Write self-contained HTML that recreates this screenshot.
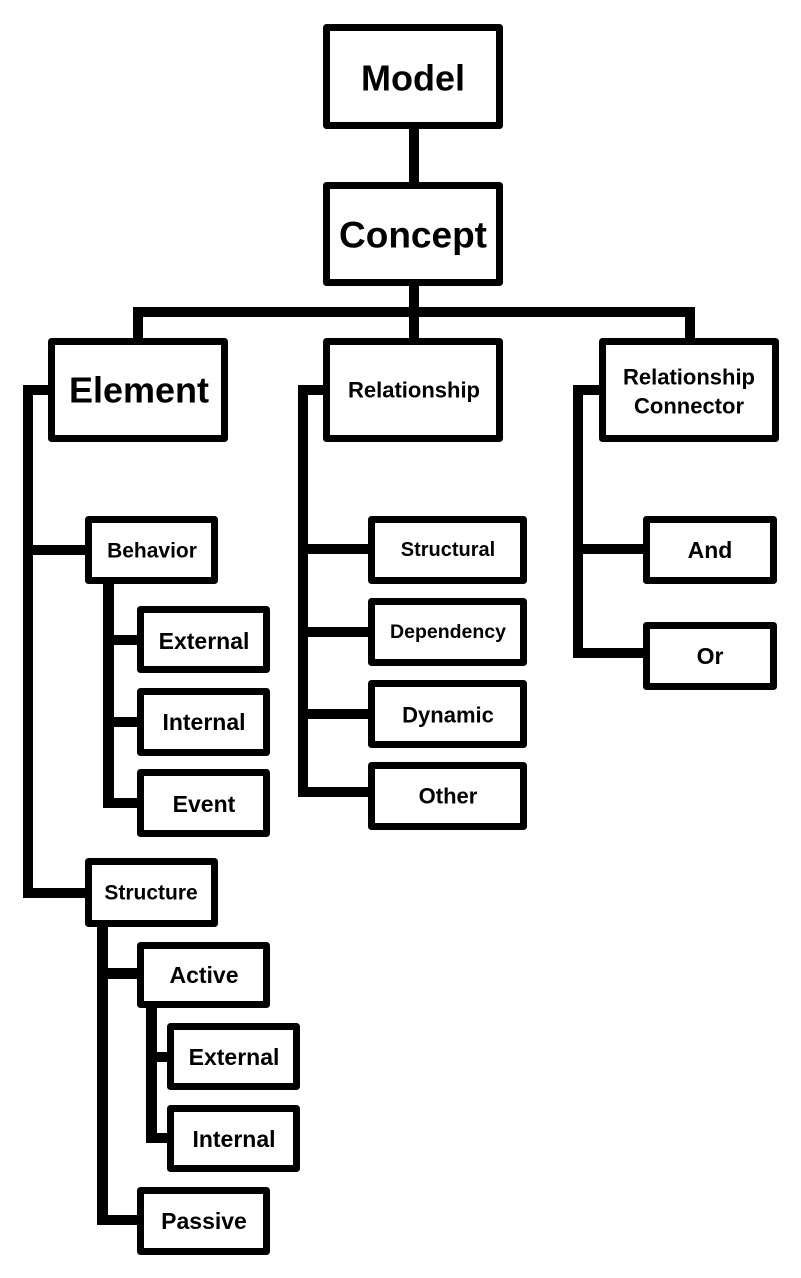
<!DOCTYPE html>
<html><head><meta charset="utf-8"><style>
html,body{margin:0;padding:0;background:#fff;}
svg{display:block;}
text{font-family:"Liberation Sans",Arial,sans-serif;font-weight:bold;fill:#000;text-anchor:middle;dominant-baseline:central;}
</style></head><body>
<svg width="801" height="1278" viewBox="0 0 801 1278" xmlns="http://www.w3.org/2000/svg">
<g fill="#000">
<rect x="409" y="128" width="10" height="56"/>
<rect x="409" y="284" width="10" height="56"/>
<rect x="133" y="307" width="562" height="10"/>
<rect x="133" y="307" width="10" height="33"/>
<rect x="685" y="307" width="10" height="33"/>
<rect x="23" y="385" width="28" height="10"/>
<rect x="23" y="385" width="10" height="513"/>
<rect x="23" y="545" width="64" height="10"/>
<rect x="23" y="888" width="64" height="10"/>
<rect x="103" y="582" width="11" height="226"/>
<rect x="103" y="635" width="36" height="10"/>
<rect x="103" y="717" width="36" height="10"/>
<rect x="103" y="798" width="36" height="10"/>
<rect x="97" y="925" width="11" height="300"/>
<rect x="97" y="968" width="42" height="11"/>
<rect x="97" y="1215" width="42" height="10"/>
<rect x="146" y="1006" width="11" height="137"/>
<rect x="146" y="1052" width="24" height="10"/>
<rect x="146" y="1133" width="24" height="10"/>
<rect x="298" y="385" width="28" height="10"/>
<rect x="298" y="385" width="10" height="412"/>
<rect x="298" y="544" width="72" height="10"/>
<rect x="298" y="627" width="72" height="10"/>
<rect x="298" y="709" width="72" height="10"/>
<rect x="298" y="787" width="72" height="10"/>
<rect x="573" y="385" width="28" height="10"/>
<rect x="573" y="385" width="10" height="273"/>
<rect x="573" y="544" width="72" height="10"/>
<rect x="573" y="648" width="72" height="10"/>
</g>
<g fill="#fff" stroke="#000" stroke-width="7" stroke-linejoin="round">
<rect x="326.5" y="27.5" width="173" height="98"/>
<rect x="326.5" y="185.5" width="173" height="97"/>
<rect x="51.5" y="341.5" width="173" height="97"/>
<rect x="326.5" y="341.5" width="173" height="97"/>
<rect x="602.5" y="341.5" width="173" height="97"/>
<rect x="88.5" y="519.5" width="126" height="61"/>
<rect x="140.5" y="609.5" width="126" height="60"/>
<rect x="140.5" y="691.5" width="126" height="61"/>
<rect x="140.5" y="772.5" width="126" height="61"/>
<rect x="88.5" y="861.5" width="126" height="62"/>
<rect x="140.5" y="945.5" width="126" height="59"/>
<rect x="170.5" y="1026.5" width="126" height="60"/>
<rect x="170.5" y="1108.5" width="126" height="60"/>
<rect x="140.5" y="1190.5" width="126" height="61"/>
<rect x="371.5" y="519.5" width="152" height="61"/>
<rect x="371.5" y="601.5" width="152" height="61"/>
<rect x="371.5" y="683.5" width="152" height="61"/>
<rect x="371.5" y="765.5" width="152" height="61"/>
<rect x="646.5" y="519.5" width="127" height="61"/>
<rect x="646.5" y="625.5" width="127" height="61"/>
</g>
<text x="413" y="78" font-size="36">Model</text>
<text x="413" y="235" font-size="37">Concept</text>
<text x="139" y="390" font-size="36">Element</text>
<text x="414" y="390" font-size="22">Relationship</text>
<text x="689" y="377" font-size="22">Relationship</text>
<text x="689" y="406" font-size="22">Connector</text>
<text x="152" y="551" font-size="21">Behavior</text>
<text x="204" y="641" font-size="23">External</text>
<text x="204" y="722" font-size="23">Internal</text>
<text x="204" y="804" font-size="23">Event</text>
<text x="151" y="893" font-size="21">Structure</text>
<text x="204" y="975" font-size="23">Active</text>
<text x="234" y="1057" font-size="23">External</text>
<text x="234" y="1139" font-size="23">Internal</text>
<text x="204" y="1221" font-size="23">Passive</text>
<text x="448" y="550" font-size="20">Structural</text>
<text x="448" y="632" font-size="19.5">Dependency</text>
<text x="448" y="715" font-size="22">Dynamic</text>
<text x="448" y="796" font-size="22">Other</text>
<text x="710" y="550" font-size="23">And</text>
<text x="710" y="656" font-size="23">Or</text>
</svg>
</body></html>
